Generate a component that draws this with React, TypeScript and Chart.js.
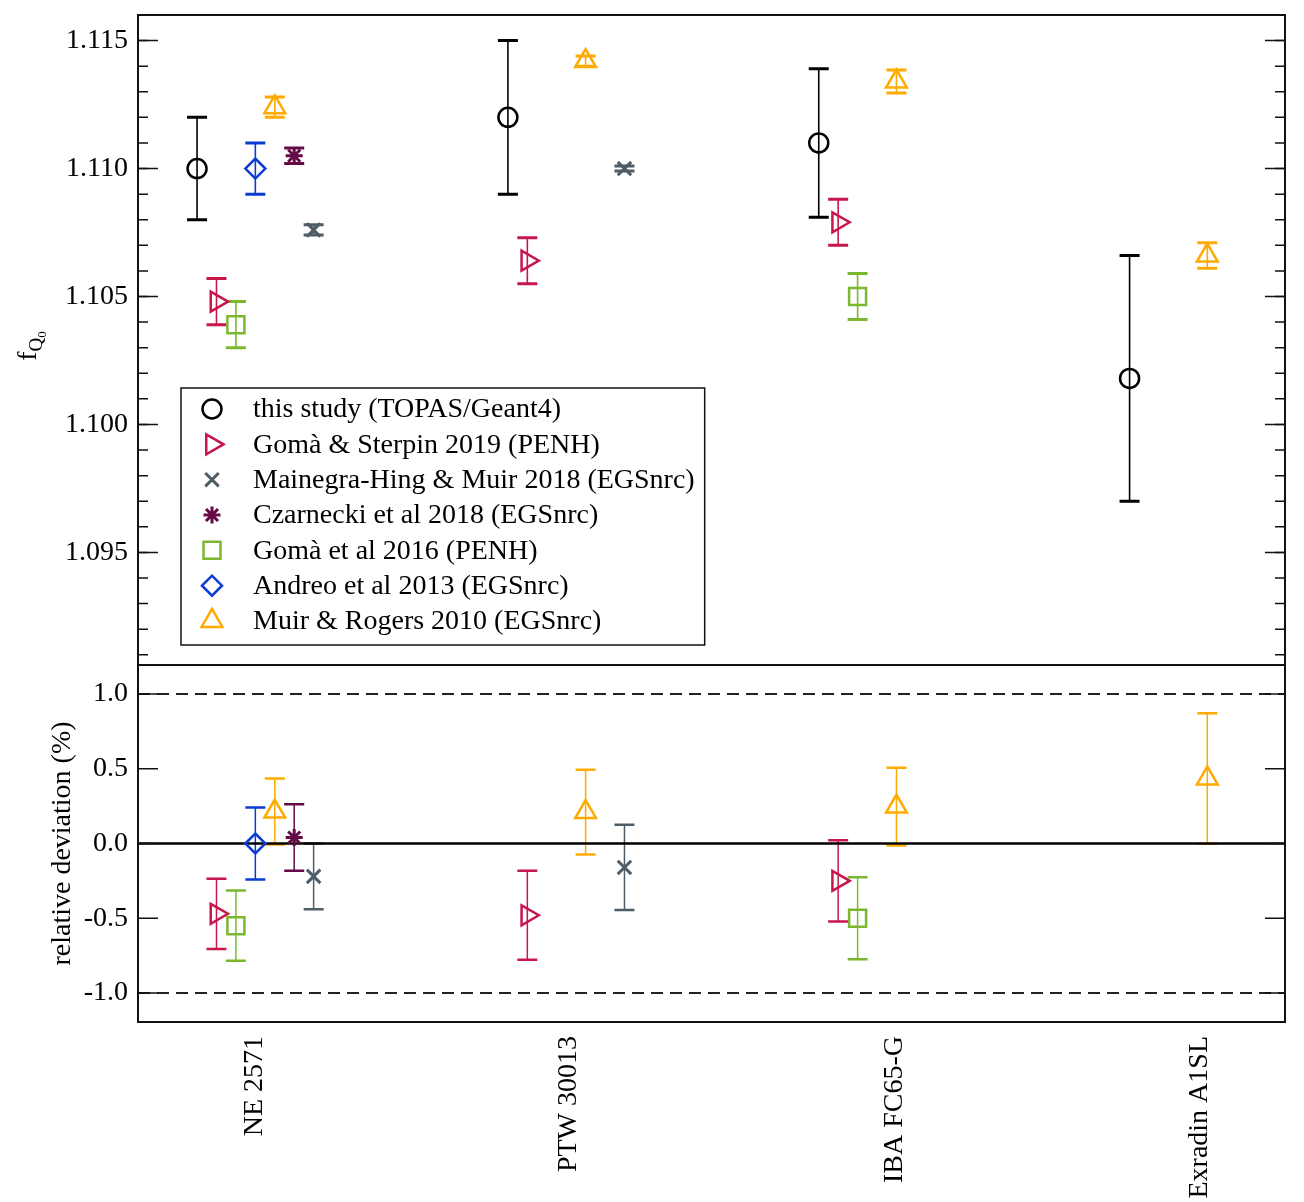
import React, { useEffect, useRef } from "react";
import { Chart, registerables } from "chart.js";
import { drawPoint } from "chart.js/helpers";

Chart.register(...registerables);

// ---------------- data ----------------
const instruments = ["NE 2571", "PTW 30013", "IBA FC65-G", "Exradin A1SL"];
const instrumentLabelPos = [0.186, 1.196, 2.244, 3.225];

const seriesLabels = [
  "this study (TOPAS/Geant4)",
  "Gomà & Sterpin 2019 (PENH)",
  "Mainegra-Hing & Muir 2018 (EGSnrc)",
  "Czarnecki et al 2018 (EGSnrc)",
  "Gomà et al 2016 (PENH)",
  "Andreo et al 2013 (EGSnrc)",
  "Muir & Rogers 2010 (EGSnrc)",
];
// horizontal slot of each series inside an instrument group
const seriesSlot = [0, 1, 6, 5, 2, 3, 4];
const slotWidth = 0.0625;

// f_Q0 (top panel)
const thisStudyF = [1.11, 1.112, 1.111, 1.1018];
const thisStudyFErr = [0.002, 0.003, 0.0029, 0.0048];
const gomaSterpinF = [1.1048, 1.1064, 1.1079, null];
const gomaSterpinFErr = [0.0009, 0.0009, 0.0009, null];
const mainegraF = [1.1076, 1.11, null, null];
const mainegraFErr = [0.0002, 0.0001, null, null];
const czarneckiF = [1.1105, null, null, null];
const czarneckiFErr = [0.0003, null, null, null];
const goma2016F = [1.1039, null, 1.105, null];
const goma2016FErr = [0.0009, null, 0.0009, null];
const andreoF = [1.11, null, null, null];
const andreoFErr = [0.001, null, null, null];
const muirF = [1.1124, 1.1142, 1.1134, 1.1066];
const muirFErr = [0.0004, 0.0002, 0.00045, 0.0005];

// relative deviation in % (bottom panel)
const thisStudyD = [null, null, null, null];
const thisStudyDErr = [null, null, null, null];
const gomaSterpinD = [-0.47, -0.48, -0.25, null];
const gomaSterpinDErr = [0.235, 0.297, 0.271, null];
const mainegraD = [-0.22, -0.16, null, null];
const mainegraDErr = [0.22, 0.285, null, null];
const czarneckiD = [0.04, null, null, null];
const czarneckiDErr = [0.222, null, null, null];
const goma2016D = [-0.55, null, -0.5, null];
const goma2016DErr = [0.235, null, 0.275, null];
const andreoD = [0.0, null, null, null];
const andreoDErr = [0.24, null, null, null];
const muirD = [0.214, 0.21, 0.247, 0.435];
const muirDErr = [0.22, 0.284, 0.26, 0.436];

const topValues = [thisStudyF, gomaSterpinF, mainegraF, czarneckiF, goma2016F, andreoF, muirF];
const topErrors = [thisStudyFErr, gomaSterpinFErr, mainegraFErr, czarneckiFErr, goma2016FErr, andreoFErr, muirFErr];
const botValues = [thisStudyD, gomaSterpinD, mainegraD, czarneckiD, goma2016D, andreoD, muirD];
const botErrors = [thisStudyDErr, gomaSterpinDErr, mainegraDErr, czarneckiDErr, goma2016DErr, andreoDErr, muirDErr];

// ---------------- styles ----------------
const seriesColors = ["#000000", "#C8154B", "#4E5D66", "#650A46", "#7CB82F", "#0B3BD6", "#FFAA00"];
const seriesStyles = ["circle", "triangle", "crossRot", "star", "rect", "rectRot", "triangle"];
const seriesRotation = [0, 90, 0, 0, 0, 0, 0];
const seriesRadius = [9.5, 11.5, 9.5, 8.5, 12, 10, 12];
const seriesBorder = [2.5, 2.5, 3, 3, 2.5, 2.5, 2.5];

const FONT = '"Liberation Serif", "Times New Roman", serif';
const X_MIN = -0.19;
const X_MAX = 3.5;

function buildDatasets(values: (number | null)[][], errors: (number | null)[][]) {
  return values.map((vals, s) => {
    const data: any[] = [];
    vals.forEach((v, i) => {
      if (v === null || v === undefined) return;
      data.push({ x: i + seriesSlot[s] * slotWidth, y: v, err: errors[s][i] });
    });
    return {
      label: seriesLabels[s],
      data,
      showLine: false,
      borderColor: seriesColors[s],
      backgroundColor: "rgba(0,0,0,0)",
      pointStyle: seriesStyles[s],
      pointRotation: seriesRotation[s],
      pointRadius: seriesRadius[s],
      pointHoverRadius: seriesRadius[s],
      pointBorderWidth: seriesBorder[s],
      pointHoverBorderWidth: seriesBorder[s],
      pointBackgroundColor: "rgba(0,0,0,0)",
      pointBorderColor: seriesColors[s],
    };
  });
}

const errorBarPlugin = {
  id: "errorBars",
  beforeDatasetsDraw(chart: any) {
    const { ctx } = chart;
    const xs = chart.scales.x;
    const ys = chart.scales.y;
    const opts = chart.options.plugins.errorBars || {};
    const lineW = opts.lineWidth ?? 1.6;
    const capW = opts.capWidth ?? 3;
    const half = 10;
    chart.data.datasets.forEach((ds: any) => {
      ctx.save();
      ctx.strokeStyle = ds.borderColor;
      ds.data.forEach((p: any) => {
        if (p.err == null) return;
        const px = xs.getPixelForValue(p.x);
        const top = ys.getPixelForValue(p.y + p.err);
        const bot = ys.getPixelForValue(p.y - p.err);
        ctx.lineWidth = lineW;
        ctx.beginPath();
        ctx.moveTo(px, top);
        ctx.lineTo(px, bot);
        ctx.stroke();
        ctx.lineWidth = capW;
        ctx.beginPath();
        ctx.moveTo(px - half, top);
        ctx.lineTo(px + half, top);
        ctx.moveTo(px - half, bot);
        ctx.lineTo(px + half, bot);
        ctx.stroke();
      });
      ctx.restore();
    });
  },
};

const frameTicksPlugin = {
  id: "frameTicks",
  beforeDatasetsDraw(chart: any) {
    const o = chart.options.plugins.frameTicks;
    if (!o || !o.refLines) return;
    const { ctx, chartArea } = chart;
    const ys = chart.scales.y;
    ctx.save();
    o.refLines.forEach((r: any) => {
      const py = ys.getPixelForValue(r.value);
      ctx.strokeStyle = r.color;
      ctx.lineWidth = r.width;
      ctx.setLineDash(r.dash || []);
      ctx.beginPath();
      ctx.moveTo(chartArea.left, py);
      ctx.lineTo(chartArea.right, py);
      ctx.stroke();
    });
    ctx.restore();
  },
  afterDraw(chart: any) {
    const o = chart.options.plugins.frameTicks;
    if (!o) return;
    const { ctx, chartArea } = chart;
    const ys = chart.scales.y;
    ctx.save();
    ctx.strokeStyle = "#111";
    ctx.lineWidth = 1.5;
    const drawTicks = (step: number, len: number) => {
      const kMin = Math.ceil(ys.min / step - 1e-9);
      const kMax = Math.floor(ys.max / step + 1e-9);
      for (let k = kMin; k <= kMax; k++) {
        const py = ys.getPixelForValue(k * step);
        ctx.beginPath();
        ctx.moveTo(chartArea.left, py);
        ctx.lineTo(chartArea.left + len, py);
        ctx.moveTo(chartArea.right, py);
        ctx.lineTo(chartArea.right - len, py);
        ctx.stroke();
      }
    };
    if (o.minorStep) drawTicks(o.minorStep, 10);
    drawTicks(o.majorStep, 20);
    ctx.lineWidth = 2;
    ctx.strokeStyle = "#111";
    ctx.strokeRect(chartArea.left, chartArea.top, chartArea.right - chartArea.left, chartArea.bottom - chartArea.top);
    // y title
    if (o.title) {
      ctx.fillStyle = "#000";
      ctx.translate(o.title.x, (chartArea.top + chartArea.bottom) / 2 + (o.title.dy || 0));
      ctx.rotate(-Math.PI / 2);
      if (o.title.parts) {
        let total = 0;
        o.title.parts.forEach((p: any) => {
          ctx.font = `${p.size}px ${FONT}`;
          total += ctx.measureText(p.text).width;
        });
        let cx = -total / 2;
        ctx.textBaseline = "alphabetic";
        ctx.textAlign = "left";
        o.title.parts.forEach((p: any) => {
          ctx.font = `${p.size}px ${FONT}`;
          ctx.fillText(p.text, cx, p.shift);
          cx += ctx.measureText(p.text).width;
        });
      } else {
        ctx.font = `28px ${FONT}`;
        ctx.textAlign = "center";
        ctx.textBaseline = "middle";
        ctx.fillText(o.title.text, 0, 0);
      }
    }
    ctx.restore();
  },
};

const legendBoxPlugin = {
  id: "legendBox",
  afterDraw(chart: any) {
    const o = chart.options.plugins.legendBox;
    if (!o) return;
    const { ctx, chartArea } = chart;
    const x0 = chartArea.left + 43;
    const y0 = chartArea.top + 373;
    const rowH = 35.33;
    ctx.save();
    ctx.font = `28px ${FONT}`;
    let maxW = 0;
    chart.data.datasets.forEach((ds: any) => {
      maxW = Math.max(maxW, ctx.measureText(ds.label).width);
    });
    const w = 72 + maxW + 10;
    const h = 257;
    ctx.fillStyle = "#fff";
    ctx.fillRect(x0, y0, w, h);
    ctx.strokeStyle = "#111";
    ctx.lineWidth = 1.5;
    ctx.strokeRect(x0, y0, w, h);
    chart.data.datasets.forEach((ds: any, i: number) => {
      const cy = y0 + 21 + i * rowH;
      ctx.save();
      ctx.strokeStyle = ds.borderColor;
      ctx.fillStyle = "rgba(0,0,0,0)";
      ctx.lineWidth = ds.pointBorderWidth;
      drawPoint(
        ctx,
        { pointStyle: ds.pointStyle, rotation: ds.pointRotation, radius: ds.pointRadius, borderWidth: ds.pointBorderWidth },
        x0 + 31,
        cy
      );
      ctx.restore();
      ctx.fillStyle = "#000";
      ctx.textAlign = "left";
      ctx.textBaseline = "middle";
      ctx.fillText(ds.label, x0 + 72, cy + 1);
    });
    ctx.restore();
  },
};

const fixYWidth = (s: any) => {
  s.width = 138;
  s.paddingTop = 0;
  s.paddingBottom = 0;
};

export default function App() {
  const topRef = useRef<HTMLCanvasElement>(null);
  const botRef = useRef<HTMLCanvasElement>(null);

  useEffect(() => {
    const tickFont = { family: FONT, size: 28 };
    const top = new Chart(topRef.current as HTMLCanvasElement, {
      type: "scatter",
      data: { datasets: buildDatasets(topValues, topErrors) as any },
      plugins: [errorBarPlugin, frameTicksPlugin, legendBoxPlugin],
      options: {
        responsive: false,
        animation: false,
        devicePixelRatio: 1,
        events: [],
        layout: { autoPadding: false, padding: { left: 0, right: 19, top: 15, bottom: 5 } },
        plugins: {
          legend: { display: false },
          tooltip: { enabled: false },
          errorBars: { lineWidth: 1.6, capWidth: 3 },
          frameTicks: {
            majorStep: 0.005,
            minorStep: 0.001,
            title: {
              x: 36,
              dy: 6,
              parts: [
                { text: "f", size: 28, shift: 0 },
                { text: "Q", size: 19, shift: 6 },
                { text: "0", size: 13, shift: 10 },
              ],
            },
          },
          legendBox: {},
        } as any,
        scales: {
          x: { type: "linear", min: X_MIN, max: X_MAX, display: false },
          y: {
            type: "linear",
            min: 1.0906,
            max: 1.116,
            grid: { display: false, drawTicks: false },
            border: { display: false },
            ticks: {
              stepSize: 0.005,
              includeBounds: false,
              padding: 10,
              color: "#000",
              font: tickFont,
              callback: (v: any) => Number(v).toFixed(3),
            },
            afterFit: fixYWidth,
          },
        },
      },
    });

    const bot = new Chart(botRef.current as HTMLCanvasElement, {
      type: "scatter",
      data: { datasets: buildDatasets(botValues, botErrors) as any },
      plugins: [errorBarPlugin, frameTicksPlugin],
      options: {
        responsive: false,
        animation: false,
        devicePixelRatio: 1,
        events: [],
        layout: { autoPadding: false, padding: { left: 0, right: 19, top: 5, bottom: 0 } },
        plugins: {
          legend: { display: false },
          tooltip: { enabled: false },
          errorBars: { lineWidth: 1.5, capWidth: 2.5 },
          frameTicks: {
            majorStep: 0.5,
            refLines: [
              { value: 1, color: "#222", width: 2, dash: [12, 7] },
              { value: -1, color: "#222", width: 2, dash: [12, 7] },
              { value: 0, color: "#000", width: 2.5 },
            ],
            title: { x: 63, text: "relative deviation (%)" },
          },
        } as any,
        scales: {
          x: {
            type: "linear",
            min: X_MIN,
            max: X_MAX,
            grid: { display: false, drawTicks: false },
            border: { display: false },
            afterBuildTicks: (s: any) => {
              s.ticks = instrumentLabelPos.map((v) => ({ value: v }));
            },
            ticks: {
              autoSkip: false,
              minRotation: 90,
              maxRotation: 90,
              padding: 14,
              color: "#000",
              font: tickFont,
              callback: (_v: any, i: number) => instruments[i],
            },
            afterFit: (s: any) => {
              s.height = 180;
              s.paddingLeft = 0;
              s.paddingRight = 0;
            },
          },
          y: {
            type: "linear",
            min: -1.194,
            max: 1.194,
            grid: { display: false, drawTicks: false },
            border: { display: false },
            ticks: {
              stepSize: 0.5,
              includeBounds: false,
              padding: 10,
              color: "#000",
              font: tickFont,
              callback: (v: any) => Number(v).toFixed(1),
            },
            afterFit: fixYWidth,
          },
        },
      },
    });

    return () => {
      top.destroy();
      bot.destroy();
    };
  }, []);

  return (
    <div style={{ position: "absolute", left: 0, top: 0, width: 1304, height: 1202, background: "#fff" }}>
      <canvas
        ref={topRef}
        width={1304}
        height={670}
        style={{ position: "absolute", left: 0, top: 0, width: 1304, height: 670 }}
      />
      <canvas
        ref={botRef}
        width={1304}
        height={542}
        style={{ position: "absolute", left: 0, top: 660, width: 1304, height: 542 }}
      />
    </div>
  );
}
